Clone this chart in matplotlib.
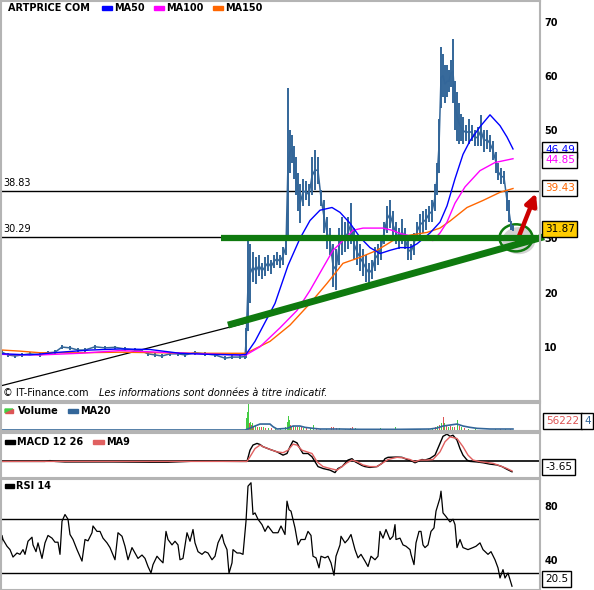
import numpy as np
import matplotlib
matplotlib.use("Agg")
import matplotlib.pyplot as plt
from matplotlib.patches import Rectangle, Polygon, Ellipse, FancyArrowPatch
import matplotlib.patheffects as pe

W, H = 594, 590

# ---- price (x position on chart, low, high) ----
price_x = [2, 8, 15, 22, 30, 40, 48, 55, 62, 70, 78, 85, 95, 105, 115, 125, 135, 142,
           148, 155, 162, 170, 178, 185, 195, 205, 215, 225, 232, 240, 245,
           246, 248, 250, 253, 256, 259, 262, 265, 268, 271, 274, 277, 280, 283, 286,
           288, 290, 292, 294, 296, 298, 300, 303, 306, 309, 312, 315, 318, 321, 324,
           327, 330, 333, 336, 339, 342, 345, 348, 351, 354, 357, 360, 363, 366, 369,
           372, 375, 378, 381, 384, 387, 390, 393, 396, 399, 402, 405, 408, 411, 414,
           417, 420, 423, 426, 429, 432, 435, 437, 439, 441, 443, 445, 447, 449, 451,
           453, 455, 457, 459, 461, 463, 466, 469, 472, 475, 478, 481, 484, 487, 490,
           493, 496, 498, 501, 504, 507, 509, 511, 513]
price_lo = [8.6, 8.1, 7.9, 8.1, 8.4, 8.1, 8.5, 8.6, 9.5, 9.4, 9.0, 9.0, 9.6, 9.4, 9.6, 9.2, 9.0, 8.8,
            8.3, 8.1, 7.9, 8.3, 8.3, 8.1, 8.5, 8.3, 8.1, 7.5, 7.7, 7.7, 7.8,
            7.9, 13.0, 18.0, 22.0, 21.5, 23.0, 22.5, 23.0, 24.0, 23.5, 24.5, 25.0, 24.5, 25.0, 27.0,
            30.0, 42.0, 44.0, 41.0, 38.0, 35.0, 32.8, 36.0, 37.0, 36.0, 38.0, 39.0, 40.0, 36.0, 31.0,
            28.0, 27.0, 21.0, 20.4, 25.0, 27.0, 27.5, 28.0, 29.0, 26.0, 25.0, 24.0, 23.0, 22.0, 21.7,
            22.5, 24.0, 25.0, 26.0, 29.0, 31.0, 32.0, 30.0, 29.0, 28.0, 29.0, 28.0, 26.0, 26.0, 27.0,
            29.5, 30.5, 31.0, 31.5, 33.0, 33.0, 35.0, 38.0, 42.0, 54.0, 56.0, 55.0, 56.0, 57.0, 58.0,
            55.0, 50.0, 48.0, 47.5, 48.0, 47.5, 48.0, 47.5, 48.0, 47.0, 47.0, 47.0, 46.0, 46.5, 46.0,
            44.5, 42.0, 40.7, 40.0, 40.0, 35.0, 33.0, 31.5, 31.3]
price_hi = [9.4, 8.9, 8.7, 8.9, 9.0, 8.9, 9.3, 9.4, 10.4, 10.2, 9.8, 9.8, 10.4, 10.2, 10.2, 10.0, 9.8, 9.6,
            9.1, 8.9, 8.7, 9.1, 9.1, 8.9, 9.3, 9.1, 8.9, 8.3, 8.5, 8.5, 8.6,
            13.5, 29.5, 29.0, 27.5, 26.5, 27.0, 25.5, 26.5, 27.0, 26.0, 27.0, 27.5, 27.0, 28.5, 30.0,
            57.8, 50.0, 49.0, 47.0, 45.0, 42.0, 40.0, 41.0, 40.5, 40.0, 45.0, 46.3, 45.0, 39.0, 37.0,
            34.0, 32.0, 29.0, 28.0, 32.0, 34.0, 33.0, 34.0, 36.5, 32.0, 30.0, 29.0, 28.0, 27.0, 25.5,
            26.0, 28.5, 29.0, 30.5, 33.0, 36.0, 37.0, 35.0, 33.0, 32.0, 33.5, 32.0, 30.0, 29.0, 31.0,
            33.0, 34.5, 35.0, 35.5, 36.0, 37.0, 40.0, 44.0, 52.0, 65.4, 64.0, 62.0, 62.0, 61.0, 63.0,
            66.7, 59.0, 57.0, 55.0, 53.0, 52.4, 51.0, 52.0, 51.0, 50.0, 50.5, 52.8, 50.0, 50.0, 49.0,
            48.0, 46.0, 44.0, 43.0, 42.5, 39.0, 37.0, 33.3, 32.5]

# ---- moving averages ----
ma50_x = [2, 30, 60, 90, 120, 150, 180, 210, 240, 246, 255, 265, 275, 288, 300, 310, 320, 332,
          340, 350, 360, 370, 380, 390, 400, 410, 417, 430, 440, 447, 455, 463, 470, 480, 490,
          500, 507, 513]
ma50_v = [8.7, 8.5, 9.0, 9.4, 9.6, 9.5, 8.8, 8.6, 8.5, 8.6, 11.0, 14.5, 18.0, 25.0, 30.0, 33.3,
          35.2, 35.7, 34.8, 32.8, 30.2, 28.3, 27.2, 27.8, 28.3, 28.3, 29.0, 31.0, 33.0, 36.0, 41.0,
          45.5, 48.0, 50.6, 52.8, 50.8, 48.7, 46.5]
ma100_x = [2, 40, 80, 120, 160, 200, 240, 246, 260, 280, 297, 310, 323, 333, 343, 353, 363, 383,
           392, 400, 417, 433, 440, 447, 455, 465, 480, 495, 513]
ma100_v = [8.6, 8.5, 8.8, 9.3, 9.0, 8.7, 8.5, 8.5, 10.0, 13.5, 16.7, 20.4, 24.6, 27.8, 29.6, 31.5,
           31.9, 31.9, 31.5, 30.9, 30.2, 29.6, 31.0, 33.0, 36.5, 39.5, 42.5, 44.0, 44.7]
ma150_x = [2, 20, 40, 80, 120, 160, 200, 240, 246, 270, 290, 310, 327, 343, 360, 377, 393, 410,
           427, 440, 450, 467, 483, 500, 513]
ma150_v = [9.4, 9.2, 8.9, 8.9, 9.0, 8.9, 8.8, 8.8, 8.8, 11.0, 14.0, 18.0, 21.7, 25.4, 26.5, 27.8,
           29.6, 30.6, 31.1, 31.9, 33.2, 35.7, 37.0, 38.5, 39.2]

# ---- volume ----
vol_x = [246, 247, 248, 249, 250, 251, 252, 253, 255, 257, 259, 261, 263, 265, 268, 271, 275, 280,
         285, 287, 288, 289, 290, 291, 293, 295, 297, 299, 301, 303, 306, 310, 313, 316, 320, 326,
         331, 333, 336, 339, 345, 350, 352, 355, 360, 368, 380, 382, 395, 397, 405, 420, 428, 432,
         435, 437, 439, 441, 443, 444, 446, 448, 450, 452, 454, 457, 459, 461, 464, 468, 475, 495,
         500, 505, 510]
vol_h = [35, 55, 80, 20, 25, 15, 20, 12, 12, 10, 8, 8, 10, 6, 5, 5, 4, 4,
         8, 25, 42, 30, 15, 12, 12, 10, 8, 10, 8, 6, 5, 6, 15, 5, 4, 3,
         8, 8, 7, 6, 3, 7, 8, 6, 3, 3, 6, 4, 8, 4, 3, 3, 3, 5,
         8, 12, 15, 22, 40, 20, 15, 10, 12, 8, 10, 30, 12, 10, 6, 4, 3, 3,
         4, 3, 3]
vol_up = ("gggrgrgrgrgrgrgrgg" "ggggrgrgrgrgrggrrg" "rrrggrrggggrgrgggg"
          "rgrgrgrgrgrgrgrggg" "rgr")
ma20_x = [1, 245, 247, 255, 260, 270, 273, 277, 287, 293, 300, 305, 313, 320, 340, 360, 400, 430,
          437, 443, 450, 457, 463, 470, 477, 490, 513]
ma20_v = [0, 0, 2, 12, 18, 18, 10, 3, 5, 12, 12, 8, 5, 3, 3, 2, 2, 3, 6, 12, 15, 18, 12, 8, 5, 3, 3]

# ---- MACD ----
macd_x = [1, 45, 50, 55, 65, 80, 95, 112, 150, 168, 195, 240,
          247, 250, 253, 257, 260, 263, 270, 277, 283, 287, 290, 293, 297, 300, 303, 308, 312,
          315, 318, 323, 330, 335, 338, 342, 345, 348, 352, 355, 358, 362, 365, 370, 377, 382,
          385, 388, 397, 402, 407, 412, 415, 418, 422, 425, 430, 435, 440, 443, 447, 450, 453,
          457, 460, 463, 467, 470, 477, 483, 490, 497, 502, 507, 512]
macd_v = [0, 0, 0.3, 0, -0.2, -0.2, -0.2, -0.2, -0.3, -0.3, 0.1, 0,
          0, 4.1, 6.0, 6.6, 6.2, 5.4, 4.4, 3.5, 2.3, 2.9, 5.4, 7.5, 6.8, 4.7, 2.9, 2.9, 1.7,
          -0.1, -1.9, -2.6, -3.2, -4.1, -2.6, -1.9, -0.7, 0.5, 1.0, -0.1, -0.7, -1.5, -1.9, -2.2,
          -1.9, -0.7, 1.0, 1.5, 1.6, 1.5, 0.7, 0.1, -0.5, 0, 0.7, 0.5, 1.1, 2.3, 6.6, 9.2, 10.0,
          9.2, 9.6, 7.8, 4.7, 2.3, 0.5, 0, -0.2, -0.5, -1.0, -1.3, -1.9, -2.9, -3.8]
sig_x = [1, 247, 250, 255, 260, 263, 270, 277, 283, 288, 293, 297, 302, 307, 312, 317, 323, 330,
         337, 342, 347, 352, 357, 363, 370, 377, 383, 388, 397, 403, 410, 415, 420, 427, 433, 440,
         445, 450, 457, 463, 468, 473, 480, 487, 493, 500, 507, 512]
sig_v = [0, 0, 1.7, 4.7, 6.0, 5.4, 4.4, 3.5, 3.2, 4.1, 6.3, 6.0, 4.1, 3.5, 2.9, -0.1, -1.9, -2.6,
         -3.2, -1.9, -0.5, 0.5, -0.1, -1.3, -1.9, -1.9, -0.5, 0.7, 1.5, 1.3, 0.7, -0.1, 0.5, 0.5,
         0.7, 3.5, 7.2, 9.0, 8.4, 5.4, 2.3, 0.5, -0.1, -0.4, -0.7, -1.6, -2.6, -3.5]

# ---- RSI 14 ----
rsi_x = [0, 2, 3, 7, 10, 13, 17, 20, 23, 25,
         28, 32, 33, 36, 38, 42, 45, 48, 52, 55,
         58, 60, 62, 65, 68, 70, 73, 77, 82, 85,
         88, 92, 93, 97, 100, 103, 107, 110, 115, 118,
         122, 125, 128, 132, 135, 138, 142, 145, 148, 151,
         153, 157, 160, 163, 166, 168, 172, 175, 178, 180,
         183, 187, 190, 193, 195, 198, 202, 205, 208, 212,
         215, 218, 222, 224, 227, 229, 232, 233, 237, 240,
         243, 246, 248, 251, 253, 255, 258, 262, 265, 268,
         273, 278, 281, 285, 287, 289, 291, 295, 298, 301,
         305, 308, 311, 313, 316, 319, 321, 325, 328, 331,
         334, 336, 340, 341, 345, 348, 351, 355, 358, 361,
         365, 368, 371, 375, 378, 380, 383, 386, 390, 393,
         395, 396, 400, 403, 406, 410, 411, 414, 416, 419,
         421, 423, 425, 428, 431, 434, 436, 440, 441, 443,
         446, 450, 453, 455, 457, 460, 463, 468, 473, 476,
         480, 483, 488, 491, 495, 498, 500, 503, 505, 508,
         511, 512]
rsi_v = [34, 58, 55, 50, 47.5, 42, 45, 44, 47.5, 44,
         53.7, 56.7, 51, 46, 52.5, 41, 52.5, 58, 56, 53,
         53, 44, 68.5, 73.5, 70, 58.7, 55, 47.5, 39, 55,
         54, 60, 65, 61, 61, 56, 52.5, 49, 40, 60,
         57.4, 50, 40, 49, 45, 41, 43.5, 41, 35, 30.2,
         36.4, 42.6, 40, 37.7, 61, 55, 51, 53.7, 51, 40,
         41, 60, 53.7, 62.4, 52.5, 46, 44, 46, 45, 40,
         42.6, 52.5, 58.7, 52.5, 47.5, 30, 37.7, 47.5, 45, 45,
         44, 68.5, 94.5, 97, 73.5, 74.7, 70, 66, 61, 65,
         60, 60, 65, 58.7, 83.4, 77, 76, 63.6, 51, 55,
         55, 61, 58, 42.6, 41.4, 34, 42.6, 41.4, 42.6, 37.7,
         28.5, 42.6, 51, 57.4, 52.5, 55, 58.7, 47.5, 41.4, 44,
         39, 35, 42.6, 40, 42.6, 61, 56, 62.4, 55, 57.4,
         66, 55, 56, 51, 50, 47.5, 44, 36.4, 52.5, 61,
         61, 51, 49, 51, 61, 63.6, 76, 85.8, 90.8, 74.7,
         72, 68, 70, 66, 49, 55, 49, 47.5, 49, 50,
         52.5, 47.5, 44, 46, 40, 34, 26.5, 32.7, 26.5, 30.2,
         22.8, 20.4]

BLUE = "#336699"
GREEN = "#0f7a0f"
GRAY = "#b4b4b4"


def fx(x):
    return x / W


def fy(y):
    return 1 - y / H


def box(x0, y0, x1, y1):
    return [x0 / W, 1 - y1 / H, (x1 - x0) / W, (y1 - y0) / H]


fig = plt.figure(figsize=(W / 100, H / 100), dpi=100)
ax = fig.add_axes(box(1, 1, 540, 400.5))
axv = fig.add_axes(box(1, 402.5, 540, 431))
axm = fig.add_axes(box(1, 432.5, 540, 477.5))
axr = fig.add_axes(box(1, 479, 540, 590))

for a in (ax, axv, axm, axr):
    a.set_xlim(1, 540)
    a.set_xticks([])
    for s in a.spines.values():
        s.set_color(GRAY)
        s.set_linewidth(1.5)
    a.yaxis.tick_right()
    a.tick_params(axis="y", length=0, pad=3, labelsize=7)

# ---- main price panel ----
# the 40 label sits under the value boxes in the original
ax.set_ylim(0.09, 73.8)
ax.set_yticks([10, 20, 30, 50, 60, 70])
for t in ax.get_yticklabels():
    t.set_fontweight("bold")

ax.axhline(38.83, color="black", lw=1)
ax.axhline(30.29, color="black", lw=1)
ax.text(3, 38.83 + 0.5, "38.83", fontsize=7, va="bottom")
ax.text(3, 30.29 + 0.5, "30.29", fontsize=7, va="bottom")

ax.plot([1, 246], [2.8, 14.4], color="black", lw=0.9)

lo = np.array(price_lo)
hi = np.array(price_hi)
ax.vlines(price_x, lo, hi, color=BLUE, lw=1.4)
ax.plot(price_x, (lo + hi) / 2, color=BLUE, lw=1.1)

ax.plot(ma150_x, ma150_v, color="#ff6600", lw=1)
ax.plot(ma100_x, ma100_v, color="#ff00ff", lw=1)
ax.plot(ma50_x, ma50_v, color="#0000ff", lw=1)

ax.plot([221, 537], [30.1, 30.1], color=GREEN, lw=4.5, solid_capstyle="butt", clip_on=False)
ax.plot([228, 544], [14.0, 30.3], color=GREEN, lw=5, solid_capstyle="butt", clip_on=False)

shadow = [pe.withSimplePatchShadow(offset=(2, -2), shadow_rgbFace="gray", alpha=0.35)]
circ = Ellipse((516, 30.1), 33, 5.0, fill=False, edgecolor=GREEN, lw=1.8,
               clip_on=False, path_effects=shadow)
ax.add_patch(circ)
arrow = FancyArrowPatch((516, 29.0), (537, 38.8), arrowstyle="-|>", mutation_scale=17,
                        color="#cc0000", lw=3.2, clip_on=False, path_effects=shadow)
ax.add_patch(arrow)

# ---- volume panel ----
axv.set_ylim(-3, 83)
axv.set_yticks([])
cols = ["#44cc44" if c == "g" else "#dd5555" for c in vol_up]
axv.bar(vol_x, vol_h, width=1.0, color=cols)
axv.plot(ma20_x, ma20_v, color=BLUE, lw=1.2)

# ---- MACD panel ----
axm.set_ylim(-5.9, 10.6)
axm.set_yticks([])
axm.axhline(0, color="black", lw=1.2)
axm.plot(macd_x, macd_v, color="black", lw=1)
axm.plot(sig_x, sig_v, color="#e06060", lw=1)

# ---- RSI panel ----
axr.set_ylim(17.6, 99.8)
axr.set_yticks([40, 80])
for t in axr.get_yticklabels():
    t.set_fontweight("bold")
axr.axhline(70, color="black", lw=1)
axr.axhline(30, color="black", lw=1)
axr.plot(rsi_x, rsi_v, color="black", lw=0.9)

# ---- legends drawn as figure text ----
def patch(x0, y0, x1, y1, color):
    fig.patches.append(Rectangle((fx(x0), fy(y1)), (x1 - x0) / W, (y1 - y0) / H,
                                 transform=fig.transFigure, color=color))


def label(x, y, s, **kw):
    fig.text(fx(x), fy(y), s, fontsize=7, fontweight="bold", va="center", ha="left", **kw)


label(8, 8, "ARTPRICE COM")
patch(102, 6, 112, 10, "#0000ff")
label(114, 8, "MA50")
patch(154, 6, 164, 10, "#ff00ff")
label(166, 8, "MA100")
patch(213, 6, 223, 10, "#ff6600")
label(225, 8, "MA150")

fig.text(fx(3), fy(393), "© IT-Finance.com", fontsize=7, va="center")
fig.text(fx(99), fy(393), "Les informations sont données à titre indicatif.",
         fontsize=7, style="italic", va="center")

fig.patches.append(Polygon([(fx(5), fy(409)), (fx(13), fy(409)), (fx(5), fy(413))],
                           closed=True, transform=fig.transFigure, color="#44cc44"))
fig.patches.append(Polygon([(fx(13), fy(409)), (fx(13), fy(413)), (fx(5), fy(413))],
                           closed=True, transform=fig.transFigure, color="#dd5555"))
label(18, 411, "Volume")
patch(68, 409, 78, 413, BLUE)
label(80, 411, "MA20")

patch(5, 440, 15, 444, "black")
label(17, 442, "MACD 12 26")
patch(93, 440, 104, 444, "#e06060")
label(106, 442, "MA9")

patch(5, 484, 14, 488, "black")
label(16, 486, "RSI 14")


def valbox(x, y, s, color="black", fc="white"):
    fig.text(fx(x), fy(y), s, fontsize=7.5, color=color, va="center", ha="left",
             bbox=dict(boxstyle="square,pad=0.25", fc=fc, ec="black", lw=1))


valbox(545, 150, "46.49", color="#0000ff")
valbox(545, 160, "44.85", color="#ff00ff")
valbox(545, 188, "39.43", color="#ff6600")
valbox(545, 229, "31.87", fc="#ffcc00")
valbox(546, 421, "56222", color="#dd5555")
valbox(584, 421, "4", color=BLUE)
valbox(545, 467, "-3.65")
valbox(545, 579, "20.5")

fig.savefig("out.png", dpi=100)
